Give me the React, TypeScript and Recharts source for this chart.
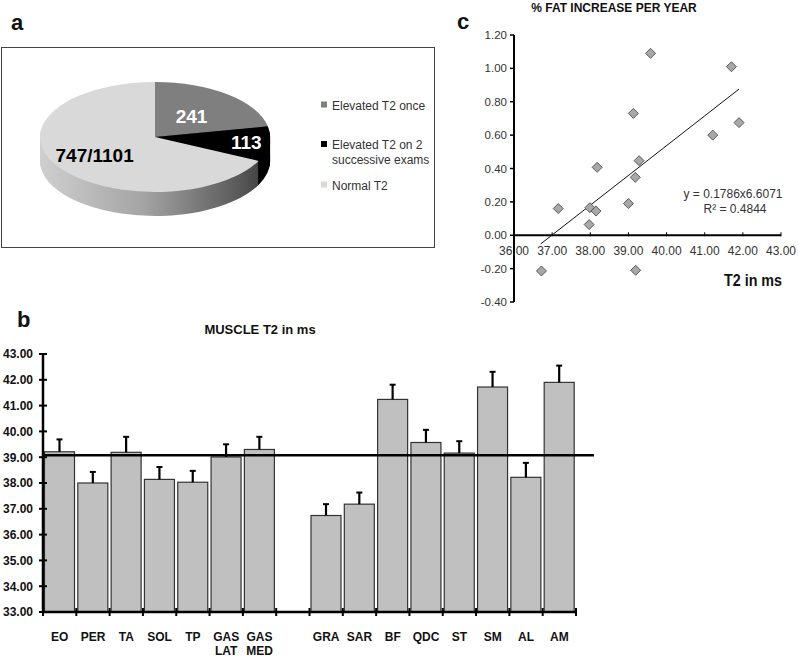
import React from "react";
import {
  PieChart,
  Pie,
  Cell,
  ScatterChart,
  Scatter,
  BarChart,
  Bar,
  XAxis,
  YAxis,
  ReferenceLine
} from "recharts";

// panel a - pie
const pieLegend = [["Elevated T2 once"], ["Elevated T2 on 2", "successive exams"], ["Normal T2"]];
const pieCounts = [241, 113, 747];
const pieLabels = ["241", "113", "747/1101"];

// panel c - scatter
const fatX = [39.58, 41.7, 39.13, 41.9, 41.21, 39.28, 38.18, 39.18, 39.0, 37.16, 37.99, 38.15, 37.97, 36.72, 39.19];
const fatY = [1.09, 1.01, 0.73, 0.675, 0.6, 0.447, 0.407, 0.347, 0.19, 0.16, 0.165, 0.145, 0.064, -0.214, -0.21];
const trendX = [36.7, 41.9];
const trendY = [-0.052, 0.876];
const fatXTicks = [36, 37, 38, 39, 40, 41, 42, 43];
const fatYTicks = [-0.4, -0.2, 0, 0.2, 0.4, 0.6, 0.8, 1.0, 1.2];

// panel b - bars
const muscles = ["EO", "PER", "TA", "SOL", "TP", "GAS\nLAT", "GAS\nMED", "", "GRA", "SAR", "BF", "QDC", "ST", "SM", "AL", "AM"];
const t2Mean = [39.21, 38.0, 39.19, 38.14, 38.03, 39.01, 39.3, null, 36.74, 37.18, 41.24, 39.57, 39.16, 41.72, 38.22, 41.9];
const t2Err = [0.48, 0.43, 0.6, 0.48, 0.44, 0.49, 0.49, null, 0.44, 0.45, 0.57, 0.49, 0.46, 0.59, 0.56, 0.65];
const t2Ticks = [33, 34, 35, 36, 37, 38, 39, 40, 41, 42, 43];
const t2Normal = 39.08;

const FONT = "'Liberation Sans', Arial, Helvetica, sans-serif";

const pieColors = ["#7f7f7f", "#000000", "#d9d9d9"];
const pieSideColors = ["#5a5a5a", "#000000", "url(#pieSide)"];
const pieTextColors = ["#fff", "#fff", "#000"];
const LABEL_R = [0.5, 0.8, 0.62];

const PIE_SCALE = 0.478;
const PIE_R = 115;
const PIE_CX = 155;
const PIE_CY = 137 / PIE_SCALE;
const PIE_DEPTH = 24 / PIE_SCALE;

const pieData = pieCounts.map((value, i) => ({ name: pieLegend[i].join(" "), value }));
const sideOffsets = Array.from({ length: 25 }, (_, i) => PIE_DEPTH - i * 2);

const fatData = fatX.map((x, i) => ({ x, y: fatY[i] }));
const trendSegment = trendX.map((x, i) => ({ x, y: trendY[i] }));

const muscleData = muscles.map((name, i) => ({ name, mean: t2Mean[i], err: t2Err[i] }));

// scatter geometry
const SC_W = 358;
const SC_H = 330;
const SC_MARGIN = { top: 35, right: 17, bottom: 8, left: 30 };
const SC_XAXIS_H = 20;
const SC_PLOT_H = SC_H - SC_MARGIN.top - SC_MARGIN.bottom - SC_XAXIS_H;
const ZERO_SHIFT = (SC_PLOT_H * (0 - fatYTicks[0])) / (fatYTicks[fatYTicks.length - 1] - fatYTicks[0]);

// bar geometry
const BC_W = 600;
const BC_H = 328;
const BC_MARGIN = { top: 24, right: 24, bottom: 6, left: 3 };
const BC_YAXIS_W = 40;
const BC_PLOT_W = BC_W - BC_MARGIN.left - BC_MARGIN.right - BC_YAXIS_W;
const SLOT = BC_PLOT_W / muscles.length;

const renderPieLabel = (p: any) => {
  const rad = Math.PI / 180;
  const r = p.outerRadius * LABEL_R[p.index];
  const x = p.cx + r * Math.cos(-p.midAngle * rad);
  const y = p.cy + r * Math.sin(-p.midAngle * rad);
  return (
    <g transform={`translate(${x},${y}) scale(1,${1 / PIE_SCALE})`}>
      <text
        x={0}
        y={0}
        dy="0.36em"
        textAnchor="middle"
        fill={pieTextColors[p.index]}
        fontFamily={FONT}
        fontWeight="bold"
        fontSize={19}
      >
        {pieLabels[p.index]}
      </text>
    </g>
  );
};

const renderDiamond = (p: any) => {
  const h = 5;
  const { cx, cy } = p;
  return (
    <polygon
      points={`${cx},${cy - h} ${cx + h},${cy} ${cx},${cy + h} ${cx - h},${cy}`}
      fill="#a8a8a8"
      stroke="#3c3c3c"
      strokeWidth={0.8}
    />
  );
};

const renderFatXTick = (p: any) => {
  const y0 = p.y - ZERO_SHIFT;
  return (
    <g>
      <line x1={p.x} x2={p.x} y1={y0 - 3} y2={y0 + 1} stroke="#000" strokeWidth={1} />
      <text x={p.x} y={y0 + 20} textAnchor="middle" fontFamily={FONT} fontSize={12} fill="#333">
        {Number(p.payload.value).toFixed(2)}
      </text>
    </g>
  );
};

const renderMuscleTick = (p: any) => {
  const lines = String(p.payload.value).split("\n");
  const left = p.x - SLOT / 2;
  return (
    <g>
      <line x1={left} x2={left} y1={p.y - 4} y2={p.y + 4} stroke="#000" strokeWidth={2} />
      {p.index === muscles.length - 1 && (
        <line x1={left + SLOT} x2={left + SLOT} y1={p.y - 4} y2={p.y + 4} stroke="#000" strokeWidth={2} />
      )}
      {lines.map((t, i) => (
        <text
          key={i}
          x={p.x}
          y={p.y + 29 + i * 14}
          textAnchor="middle"
          fontFamily={FONT}
          fontWeight="bold"
          fontSize={12}
          fill="#111"
        >
          {t}
        </text>
      ))}
    </g>
  );
};

const renderT2Tick = (p: any) => (
  <g>
    <line x1={p.x - 4} x2={p.x + 4} y1={p.y} y2={p.y} stroke="#000" strokeWidth={2} />
    <text x={p.x - 10} y={p.y} dy="0.36em" textAnchor="end" fontFamily={FONT} fontWeight="bold" fontSize={12} fill="#111">
      {Number(p.payload.value).toFixed(2)}
    </text>
  </g>
);

// bar with one-sided (upper) error bar; pixel length taken from the bar's own scale
const renderMuscleBar = (p: any) => {
  const { x, y, width, height, payload } = p;
  if (payload.mean == null || !height) return <g />;
  const pxPerUnit = height / (payload.mean - t2Ticks[0]);
  const top = y - payload.err * pxPerUnit;
  const cx = x + width / 2;
  return (
    <g>
      <rect x={x} y={y} width={width} height={height} fill="#c0c0c0" stroke="#333" strokeWidth={1.2} />
      <line x1={cx} x2={cx} y1={y} y2={top} stroke="#000" strokeWidth={2.2} />
      <line x1={cx - 3} x2={cx + 3} y1={top} y2={top} stroke="#000" strokeWidth={2} />
    </g>
  );
};

const renderNormalLine = (p: any) => (
  <line x1={p.x1} y1={p.y1} x2={p.x2 + 18} y2={p.y2} stroke="#000" strokeWidth={2.5} />
);

const App = () => {
  return (
    <div style={{ position: "absolute", left: 0, top: 0, width: 798, height: 658, background: "#fff", overflow: "hidden" }}>
      {/* box of panel a */}
      <div style={{ position: "absolute", left: 1, top: 47, width: 432, height: 199, border: "1px solid #444" }} />

      {/* panel a: tilted pie */}
      <div style={{ position: "absolute", left: 0, top: 0, transform: `scaleY(${PIE_SCALE})`, transformOrigin: "0 0" }}>
        <PieChart width={300} height={460} margin={{ top: 0, right: 0, bottom: 0, left: 0 }}>
          <defs>
            <linearGradient id="pieSide" gradientUnits="userSpaceOnUse" x1={PIE_CX - PIE_R} x2={PIE_CX + PIE_R} y1={0} y2={0}>
              <stop offset="0" stopColor="#cfcfcf" />
              <stop offset="0.45" stopColor="#a4a4a4" />
              <stop offset="0.85" stopColor="#5c5c5c" />
              <stop offset="1" stopColor="#3a3a3a" />
            </linearGradient>
          </defs>
          {sideOffsets.map((off) => (
            <Pie
              key={`side-${off}`}
              data={pieData}
              dataKey="value"
              cx={PIE_CX}
              cy={PIE_CY + off}
              outerRadius={PIE_R}
              startAngle={90}
              endAngle={-270}
              stroke="none"
              label={false}
              labelLine={false}
              isAnimationActive={false}
            >
              {pieData.map((_, i) => (
                <Cell key={i} fill={pieSideColors[i]} />
              ))}
            </Pie>
          ))}
          <Pie
            data={pieData}
            dataKey="value"
            cx={PIE_CX}
            cy={PIE_CY}
            outerRadius={PIE_R}
            startAngle={90}
            endAngle={-270}
            stroke="none"
            label={renderPieLabel}
            labelLine={false}
            isAnimationActive={false}
          >
            {pieData.map((_, i) => (
              <Cell key={i} fill={pieColors[i]} />
            ))}
          </Pie>
        </PieChart>
      </div>

      {/* panel c: scatter */}
      <div style={{ position: "absolute", left: 440, top: 0 }}>
        <ScatterChart width={SC_W} height={SC_H} margin={SC_MARGIN}>
          <XAxis
            type="number"
            dataKey="x"
            domain={[fatXTicks[0], fatXTicks[fatXTicks.length - 1]]}
            ticks={fatXTicks}
            interval={0}
            height={SC_XAXIS_H}
            axisLine={false}
            tickLine={false}
            tickSize={0}
            tickMargin={0}
            tick={renderFatXTick}
          />
          <YAxis
            type="number"
            dataKey="y"
            domain={[fatYTicks[0], fatYTicks[fatYTicks.length - 1]]}
            ticks={fatYTicks}
            interval={0}
            width={44}
            axisLine={{ stroke: "#000", strokeWidth: 2 }}
            tickLine={{ stroke: "#000", strokeWidth: 1.5 }}
            tickSize={4}
            tickMargin={3}
            tick={{ fontSize: 11.5, fill: "#333", fontFamily: FONT }}
            tickFormatter={(v: number) => v.toFixed(2)}
          />
          <ReferenceLine y={0} stroke="#000" strokeWidth={2} />
          <ReferenceLine segment={trendSegment} stroke="#111" strokeWidth={1} />
          <Scatter data={fatData} shape={renderDiamond} isAnimationActive={false} />
        </ScatterChart>
      </div>

      {/* panel b: bars */}
      <div style={{ position: "absolute", left: 0, top: 330 }}>
        <BarChart width={BC_W} height={BC_H} data={muscleData} margin={BC_MARGIN} barCategoryGap={1.5}>
          <XAxis
            dataKey="name"
            interval={0}
            height={40}
            axisLine={{ stroke: "#000", strokeWidth: 2.5 }}
            tickLine={false}
            tickSize={0}
            tickMargin={0}
            tick={renderMuscleTick}
          />
          <YAxis
            type="number"
            domain={[t2Ticks[0], t2Ticks[t2Ticks.length - 1]]}
            ticks={t2Ticks}
            interval={0}
            width={BC_YAXIS_W}
            axisLine={{ stroke: "#000", strokeWidth: 2.5 }}
            tickLine={false}
            tickSize={0}
            tickMargin={0}
            tick={renderT2Tick}
          />
          <Bar dataKey="mean" fill="#c0c0c0" shape={renderMuscleBar} isAnimationActive={false} />
          <ReferenceLine y={t2Normal} shape={renderNormalLine} />
        </BarChart>
      </div>

      {/* titles, panel letters, legend, equation */}
      <svg width={798} height={658} style={{ position: "absolute", left: 0, top: 0, pointerEvents: "none" }} fontFamily={FONT}>
        <text x={11} y={30} fontSize={22} fontWeight="bold" fill="#111">a</text>
        <text x={457} y={29} fontSize={22} fontWeight="bold" fill="#111">c</text>
        <text x={17} y={327} fontSize={22} fontWeight="bold" fill="#111">b</text>
        <text x={614} y={12} fontSize={12} fontWeight="bold" textAnchor="middle" fill="#111">% FAT INCREASE PER YEAR</text>
        <text x={260} y={334} fontSize={13} fontWeight="bold" textAnchor="middle" fill="#111">MUSCLE T2 in ms</text>
        <text x={753} y={286} fontSize={17} fontWeight="bold" textAnchor="middle" fill="#111" textLength={58} lengthAdjust="spacingAndGlyphs">T2 in ms</text>
        <text x={733} y={198} fontSize={12} textAnchor="middle" fill="#333">y = 0.1786x6.6071</text>
        <text x={735} y={213} fontSize={12} textAnchor="middle" fill="#333">R² = 0.4844</text>
        {pieLegend.map((lines, i) => {
          const top = [101.5, 141, 181.5][i];
          return (
            <g key={i}>
              <rect x={321} y={top} width={6} height={6} fill={pieColors[i]} />
              {lines.map((t, j) => (
                <text key={j} x={332} y={top + 8 + j * 15} fontSize={12} fill="#333">{t}</text>
              ))}
            </g>
          );
        })}
      </svg>
    </div>
  );
};

export default App;
